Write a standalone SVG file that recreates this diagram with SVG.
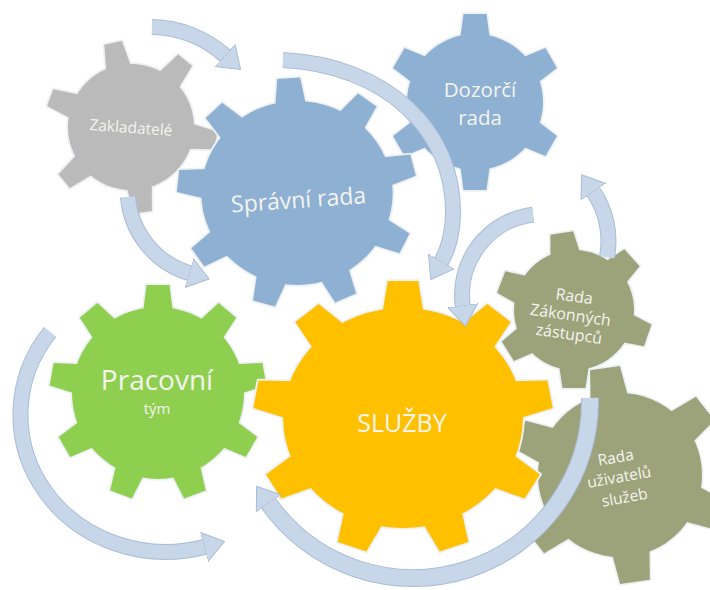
<svg xmlns="http://www.w3.org/2000/svg" xmlns:xlink="http://www.w3.org/1999/xlink" width="710" height="590" viewBox="0 0 710 590">
<style>
  .ol { fill: #eef1f4; stroke: #eef1f4; stroke-width: 3.5; stroke-linejoin: round; }
  .gray { fill: #bababa; }
  .blue { fill: #8eb0d3; }
  .green { fill: #8fcf50; }
  .orange { fill: #ffc000; }
  .olive { fill: #9ca37b; }
  .lbl { font-family: "Open Sans", "Liberation Sans", sans-serif; fill: #f4f4ee; text-anchor: middle; }
  .arr-ol { fill: none; stroke: #a9bdd5; }
  .arr { fill: none; stroke: #c7d6e9; marker-end: url(#ah); }
</style>
<defs>
  <marker id="ah" markerUnits="userSpaceOnUse" viewBox="0 0 22 32" markerWidth="22" markerHeight="32" refX="0.8" refY="16" orient="auto">
    <path d="M0,1 L21,16 L0,31 Z" fill="#c7d6e9" stroke="#a9bdd5" stroke-width="1" stroke-linejoin="round"/>
  </marker>
  <polygon id="t-zak" points="-13,-57 -9,-86 9,-86 13,-57"/>
  <polygon id="t-spr" points="-15,-86 -11,-115 11,-115 15,-86"/>
  <polygon id="t-doz" points="-15,-62 -11.5,-88 11.5,-88 15,-62"/>
  <polygon id="t-pra" points="-15,-80 -11.5,-108 11.5,-108 15,-80"/>
  <polygon id="t-slu" points="-19,-104 -14,-137 14,-137 19,-104"/>
  <polygon id="t-zas" points="-15,-55 -11.5,-78 11.5,-78 15,-55"/>
  <polygon id="t-uzi" points="-19,-76 -15,-108 15,-108 19,-76"/>
  <g id="s-zak">
    <circle r="63"/>
    <use xlink:href="#t-zak" transform="rotate(-12)"/>
    <use xlink:href="#t-zak" transform="rotate(39)"/>
    <use xlink:href="#t-zak" transform="rotate(99)"/>
    <use xlink:href="#t-zak" transform="rotate(172)"/>
    <use xlink:href="#t-zak" transform="rotate(231)"/>
    <use xlink:href="#t-zak" transform="rotate(290)"/>
  </g>
  <g id="s-spr">
    <circle r="92"/>
    <use xlink:href="#t-spr" transform="rotate(-4)"/>
    <use xlink:href="#t-spr" transform="rotate(36)"/>
    <use xlink:href="#t-spr" transform="rotate(76)"/>
    <use xlink:href="#t-spr" transform="rotate(116)"/>
    <use xlink:href="#t-spr" transform="rotate(156)"/>
    <use xlink:href="#t-spr" transform="rotate(196)"/>
    <use xlink:href="#t-spr" transform="rotate(236)"/>
    <use xlink:href="#t-spr" transform="rotate(276)"/>
    <use xlink:href="#t-spr" transform="rotate(316)"/>
  </g>
  <g id="s-doz">
    <circle r="68"/>
    <use xlink:href="#t-doz" transform="rotate(0)"/>
    <use xlink:href="#t-doz" transform="rotate(60)"/>
    <use xlink:href="#t-doz" transform="rotate(120)"/>
    <use xlink:href="#t-doz" transform="rotate(180)"/>
    <use xlink:href="#t-doz" transform="rotate(240)"/>
    <use xlink:href="#t-doz" transform="rotate(300)"/>
  </g>
  <g id="s-pra">
    <circle r="86"/>
    <use xlink:href="#t-pra" transform="rotate(0)"/>
    <use xlink:href="#t-pra" transform="rotate(40)"/>
    <use xlink:href="#t-pra" transform="rotate(80)"/>
    <use xlink:href="#t-pra" transform="rotate(120)"/>
    <use xlink:href="#t-pra" transform="rotate(160)"/>
    <use xlink:href="#t-pra" transform="rotate(200)"/>
    <use xlink:href="#t-pra" transform="rotate(240)"/>
    <use xlink:href="#t-pra" transform="rotate(280)"/>
    <use xlink:href="#t-pra" transform="rotate(320)"/>
  </g>
  <g id="s-slu">
    <circle r="110"/>
    <use xlink:href="#t-slu" transform="rotate(0)"/>
    <use xlink:href="#t-slu" transform="rotate(40)"/>
    <use xlink:href="#t-slu" transform="rotate(80)"/>
    <use xlink:href="#t-slu" transform="rotate(120)"/>
    <use xlink:href="#t-slu" transform="rotate(160)"/>
    <use xlink:href="#t-slu" transform="rotate(200)"/>
    <use xlink:href="#t-slu" transform="rotate(240)"/>
    <use xlink:href="#t-slu" transform="rotate(280)"/>
    <use xlink:href="#t-slu" transform="rotate(320)"/>
  </g>
  <g id="s-zas">
    <circle r="60"/>
    <use xlink:href="#t-zas" transform="rotate(-9)"/>
    <use xlink:href="#t-zas" transform="rotate(48)"/>
    <use xlink:href="#t-zas" transform="rotate(109)"/>
    <use xlink:href="#t-zas" transform="rotate(180)"/>
    <use xlink:href="#t-zas" transform="rotate(238)"/>
    <use xlink:href="#t-zas" transform="rotate(291)"/>
  </g>
  <g id="s-uzi">
    <circle r="82"/>
    <use xlink:href="#t-uzi" transform="rotate(-8)"/>
    <use xlink:href="#t-uzi" transform="rotate(52)"/>
    <use xlink:href="#t-uzi" transform="rotate(112)"/>
    <use xlink:href="#t-uzi" transform="rotate(172)"/>
    <use xlink:href="#t-uzi" transform="rotate(232)"/>
    <use xlink:href="#t-uzi" transform="rotate(292)"/>
  </g>
</defs>

<rect width="710" height="590" fill="#ffffff"/>

<g id="node-zakladatele" transform="translate(131,127)">
  <use xlink:href="#s-zak" class="ol"/>
  <use xlink:href="#s-zak" class="gray"/>
  <text class="lbl" font-size="15.5" transform="rotate(4)" x="0" y="6">Zakladatelé</text>
</g>

<g id="node-dozorci-rada" transform="translate(475,102)">
  <use xlink:href="#s-doz" class="ol"/>
  <use xlink:href="#s-doz" class="blue"/>
  <text class="lbl" font-size="20.5" x="5" y="-5">Dozorčí</text>
  <text class="lbl" font-size="20.5" x="5" y="23">rada</text>
</g>

<g id="node-spravni-rada" transform="translate(297,193)">
  <use xlink:href="#s-spr" class="ol" transform="scale(1.04,1)"/>
  <use xlink:href="#s-spr" class="blue" transform="scale(1.04,1)"/>
  <text class="lbl" font-size="23" transform="rotate(-4)" x="1" y="15">Správní rada</text>
</g>

<g id="node-pracovni-tym" transform="translate(158,393)">
  <use xlink:href="#s-pra" class="ol"/>
  <use xlink:href="#s-pra" class="green"/>
  <text class="lbl" font-size="28" x="-1" y="-3">Pracovní</text>
  <text class="lbl" font-size="15" x="-1" y="21">tým</text>
</g>

<g id="node-rada-zakonnych-zastupcu" transform="translate(574,310)">
  <use xlink:href="#s-zas" class="ol"/>
  <use xlink:href="#s-zas" class="olive"/>
  <text class="lbl" font-size="16" transform="rotate(8,0,10)">
    <tspan x="-1" y="-8">Rada</tspan>
    <tspan x="-2" y="11">Zákonných</tspan>
    <tspan x="-3" y="30">zástupců</tspan>
  </text>
</g>

<g id="node-rada-uzivatelu-sluzeb" transform="translate(620,475)">
  <use xlink:href="#s-uzi" class="ol"/>
  <use xlink:href="#s-uzi" class="olive"/>
  <text class="lbl" font-size="15.5" transform="rotate(-10,2,7)">
    <tspan x="2" y="-13">Rada</tspan>
    <tspan x="2" y="7">uživatelů</tspan>
    <tspan x="2" y="28">služeb</tspan>
  </text>
</g>

<g id="node-sluzby" transform="translate(403,418)">
  <use xlink:href="#s-slu" class="ol" transform="scale(1.09,1)"/>
  <use xlink:href="#s-slu" class="orange" transform="scale(1.09,1)"/>
  <text class="lbl" font-size="25" x="-1" y="14">SLUŽBY</text>
</g>

<g id="connectors">
  <g class="arr-ol" stroke-width="16">
    <path d="M152,27 A113,113 0 0,1 225.6,56"/>
    <path d="M283,60 C385,65 455,130 453,215 C452.5,232 448,250 441,262"/>
    <path d="M128,197 A87,87 0 0,0 189.9,273.3"/>
    <path d="M533.1,214.6 A81,81 0 0,0 462.8,306.3"/>
    <path d="M607,257 A87.5,87.5 0 0,0 593,191.3"/>
    <path d="M50,332 A145,137 0 0,0 205,546.7"/>
    <path d="M590,398 A177,177 0 0,1 268.2,502.8" stroke-width="18"/>
  </g>
  <g class="arr" stroke-width="14">
    <path id="arrow-a" d="M152,27 A113,113 0 0,1 225.6,56"/>
    <path id="arrow-b" d="M283,60 C385,65 455,130 453,215 C452.5,232 448,250 441,262"/>
    <path id="arrow-c" d="M128,197 A87,87 0 0,0 189.9,273.3"/>
    <path id="arrow-d" d="M533.1,214.6 A81,81 0 0,0 462.8,306.3"/>
    <path id="arrow-e" d="M607,257 A87.5,87.5 0 0,0 593,191.3"/>
    <path id="arrow-f" d="M50,332 A145,137 0 0,0 205,546.7"/>
    <path id="arrow-g" d="M590,398 A177,177 0 0,1 268.2,502.8" stroke-width="16"/>
  </g>
</g>
</svg>
